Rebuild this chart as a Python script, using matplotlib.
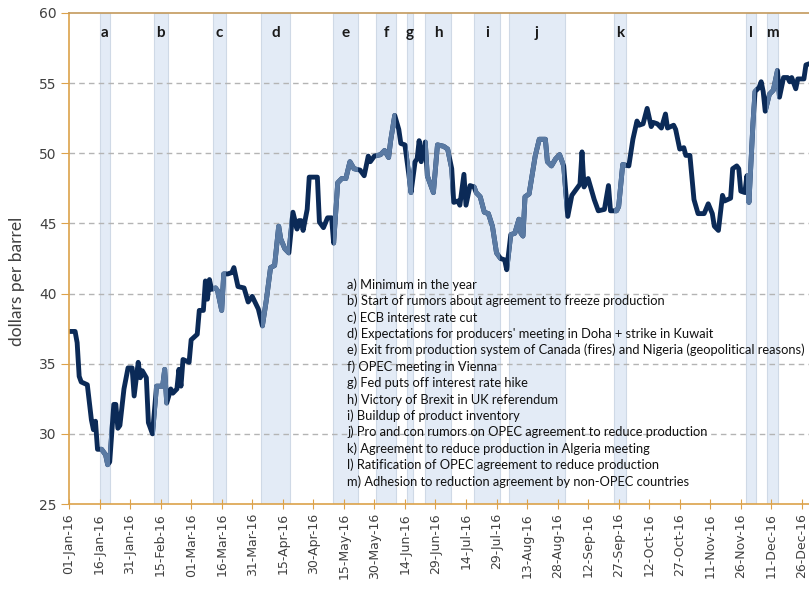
import numpy as np
import pandas as pd
import matplotlib
matplotlib.use('Agg')
import matplotlib.pyplot as plt
import matplotlib.transforms as mtransforms

# Brent price 2016, x = days counted from 01-Jan-2016
days = [0, 3, 4, 5, 6, 9, 11, 12, 13, 14, 16, 18, 19, 20, 22, 23, 24, 25, 27, 29,
        31, 32, 34, 35, 36, 38, 39, 41, 43, 46, 47, 48, 50, 51, 53, 54, 55, 56, 59, 60,
        63, 64, 66, 67, 68, 69, 70, 72, 73, 75, 76, 78, 80, 81, 83, 86, 88, 90, 91, 93,
        95, 97, 99, 101, 103, 104, 106, 108, 110, 112, 113, 114, 115, 117, 118, 122, 123, 125, 127, 129,
        130, 132, 134, 136, 138, 140, 143, 145, 147, 148, 150, 153, 155, 157, 158, 160, 162, 163, 165, 167,
        168, 170, 171, 172, 173, 175, 176, 179, 181, 184, 186, 188, 189, 191, 192, 194, 195, 197, 199, 200,
        202, 204, 206, 208, 210, 212, 214, 215, 217, 219, 221, 222, 223, 224, 226, 229, 231, 234, 235, 237,
        239, 241, 243, 245, 247, 249, 251, 252, 253, 255, 257, 258, 260, 263, 265, 266, 269, 270, 272, 275,
        277, 279, 280, 282, 284, 286, 287, 289, 291, 293, 294, 297, 298, 300, 302, 303, 305, 306, 307, 309,
        312, 314, 316, 317, 319, 321, 322, 325, 326, 328, 329, 330, 332, 333, 334, 336, 337, 339, 340, 341,
        342, 344, 346, 348, 349, 351, 353, 354, 355, 357, 358, 361, 362, 364]
price = [37.3, 37.3, 36.5, 34.1, 33.7, 33.5, 31.0, 30.3, 30.9, 28.9, 28.9, 28.5, 27.8, 28.0, 32.1, 32.1, 30.4, 30.6, 33.2, 34.7,
         34.7, 32.7, 35.1, 34.0, 34.5, 34.0, 30.8, 30.0, 33.4, 33.4, 34.6, 32.2, 33.2, 32.9, 33.2, 34.6, 33.4, 35.3, 35.1, 36.7,
         37.1, 38.8, 38.8, 40.9, 39.6, 41.0, 40.3, 40.4, 40.2, 38.8, 41.4, 41.4, 41.5, 41.85, 40.5, 40.4, 39.4, 39.8, 39.5, 38.9,
         37.7, 39.6, 41.85, 42.0, 44.8, 43.9, 43.2, 42.9, 45.8, 44.6, 45.2, 45.2, 44.5, 46.0, 48.3, 48.3, 45.1, 44.7, 45.4, 45.4,
         43.6, 47.9, 48.2, 48.2, 49.4, 48.9, 48.8, 48.4, 49.8, 49.4, 49.8, 49.9, 50.2, 49.7, 50.9, 52.7, 51.7, 50.7, 50.6, 48.4,
         47.2, 49.4, 49.6, 50.9, 49.4, 50.8, 48.4, 47.2, 50.6, 50.5, 50.3, 48.9, 46.5, 46.6, 46.3, 48.5, 46.3, 47.7, 47.6, 47.2,
         46.9, 45.8, 45.7, 44.8, 42.9, 42.5, 42.4, 41.7, 44.2, 44.3, 45.3, 44.3, 44.1, 46.9, 47.1, 49.8, 51.0, 51.0, 49.4, 49.1,
         49.6, 49.9, 49.1, 45.5, 47.0, 47.4, 47.8, 50.1, 47.6, 48.2, 47.2, 46.7, 45.9, 46.0, 47.7, 45.9, 45.9, 46.2, 49.2, 49.1,
         51.0, 52.3, 52.0, 52.1, 53.2, 51.9, 52.2, 52.1, 51.8, 52.8, 51.8, 52.0, 51.7, 50.3, 50.4, 49.85, 49.85, 48.3, 46.7, 45.7,
         45.7, 46.4, 45.7, 44.8, 44.5, 47.0, 46.6, 46.8, 48.9, 49.1, 48.9, 47.3, 47.2, 48.4, 46.5, 52.2, 54.4, 54.7, 55.1, 54.4,
         53.0, 54.2, 54.5, 55.9, 54.0, 55.4, 55.4, 55.1, 55.4, 54.6, 55.3, 55.3, 56.3, 56.4]

# event windows (start day, end day) and their letters
band_letters = ['a', 'b', 'c', 'd', 'e', 'f', 'g', 'h', 'i', 'j', 'k', 'l', 'm']
band_start = [15.2, 41.7, 70.7, 94.3, 129.7, 150.8, 166.0, 174.9, 198.9, 216.1, 267.7, 332.5, 342.8]
band_end = [20.1, 48.6, 77.1, 108.5, 142.0, 160.6, 169.0, 187.6, 211.7, 243.6, 273.6, 337.4, 348.2]

notes = ['a) Minimum in the year',
         'b) Start of rumors about agreement to freeze production',
         'c) ECB interest rate cut',
         "d) Expectations for producers' meeting in Doha + strike in Kuwait",
         'e) Exit from production system of Canada (fires) and Nigeria (geopolitical reasons)',
         'f) OPEC meeting in Vienna',
         'g) Fed puts off interest rate hike',
         'h) Victory of Brexit in UK referendum',
         'i) Buildup of product inventory',
         'j) Pro and con rumors on OPEC agreement to reduce production',
         'k) Agreement to reduce production in Algeria meeting',
         'l) Ratification of OPEC agreement to reduce production',
         'm) Adhesion to reduction agreement by non-OPEC countries']

tick_days = np.arange(0, 361, 15)
tick_labels = (pd.Timestamp('2016-01-01') + pd.to_timedelta(tick_days, unit='D')).strftime('%d-%b-%y')

dark = '#0b2a57'
light = '#5a7aa3'
axcol = '#dca24a'

fig = plt.figure(figsize=(8.09, 5.90), dpi=100)
ax = fig.add_axes([69/809, 1-504/590, 740/809, 491/590])

ax.set_xlim(0, 363.5)
ax.set_ylim(25, 60)

spans = []
for s, e in zip(band_start, band_end):
    sp = ax.axvspan(s, e, ymin=0.0, ymax=1.0, facecolor='#e3ebf6', edgecolor='#cfd9e6', linewidth=0.8, zorder=1)
    spans.append(sp)

ax.plot(days, price, color=dark, lw=3.5, solid_joinstyle='round', solid_capstyle='round', zorder=3)
# lighter line inside the event windows
for sp in spans:
    ln, = ax.plot(days, price, color=light, lw=3.5, solid_joinstyle='round', solid_capstyle='round', zorder=4)
    ln.set_clip_path(sp)

trans = mtransforms.blended_transform_factory(ax.transData, ax.transAxes)
for s, e, lab in zip(band_start, band_end, band_letters):
    ax.text((s+e)/2, 0.96, lab, transform=trans, ha='center', va='center',
            fontsize=11, fontweight='bold', family=['Lato', 'DejaVu Sans'], color='#1a1a1a', zorder=5)

for i, t in enumerate(notes):
    ax.text(0.3757, 0.447 - i*0.0334, t, transform=ax.transAxes, ha='left', va='center',
            fontsize=9.3, family=['Lato', 'DejaVu Sans'], color='#111111', zorder=5)

# grid and axes
for v in [30, 35, 40, 45, 50, 55]:
    ax.axhline(v, color='#b4b4b4', lw=1.0, ls=(0, (4, 3)), zorder=2)

ax.set_yticks([25, 30, 35, 40, 45, 50, 55, 60])
ax.set_xticks(tick_days)
ax.set_xticklabels(tick_labels, rotation=90)
ax.tick_params(axis='y', direction='out', length=6, color=axcol, labelsize=10, labelcolor='#404040', pad=3)
ax.tick_params(axis='x', direction='inout', length=7, color=axcol, labelsize=9, labelcolor='#404040', pad=3)

ax.spines['right'].set_visible(False)
ax.spines['left'].set_color(axcol)
ax.spines['bottom'].set_color(axcol)
ax.spines['top'].set_color('#c49a5c')
for sname in ['left', 'bottom', 'top']:
    ax.spines[sname].set_linewidth(1.2)
    ax.spines[sname].set_zorder(6)

ax.set_ylabel('dollars per barrel', fontsize=12.5, color='#404040', family=['Lato', 'DejaVu Sans'])
ax.yaxis.set_label_coords(-0.059, 0.454)

plt.savefig('out.png', dpi=100)
plt.close()
